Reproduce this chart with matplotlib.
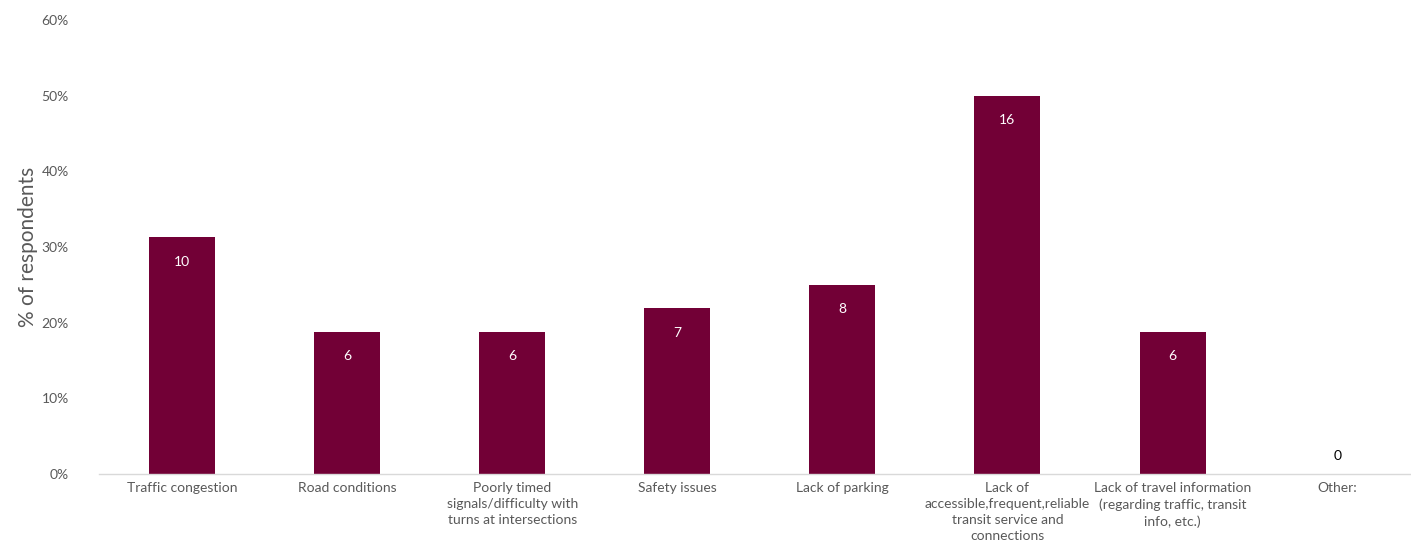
import matplotlib
matplotlib.use("Agg")
import matplotlib.pyplot as plt
from matplotlib.ticker import PercentFormatter

plt.rcParams["font.family"] = ["Lato", "DejaVu Sans"]

categories = [
    "Traffic congestion",
    "Road conditions",
    "Poorly timed\nsignals/difficulty with\nturns at intersections",
    "Safety issues",
    "Lack of parking",
    "Lack of\naccessible,frequent,reliable\ntransit service and\nconnections",
    "Lack of travel information\n(regarding traffic, transit\ninfo, etc.)",
    "Other:",
]
counts = [10, 6, 6, 7, 8, 16, 6, 0]
pct = [31.25, 18.75, 18.75, 21.875, 25.0, 50.0, 18.75, 0.0]

BAR = "#720036"
GREY = "#595959"

fig = plt.figure(figsize=(14.11, 5.5), dpi=100)
ax = fig.add_axes([0.0705, 0.138, 0.936, 0.826])

x = range(len(categories))
ax.bar(x, pct, width=0.4, color=BAR)

for xi, p, c in zip(x, pct, counts):
    if p > 3:
        ax.text(xi, p - 3.2, str(c), ha="center", va="center", color="white", fontsize=10)
    else:
        ax.text(xi, p + 2.4, str(c), ha="center", va="center", color="black", fontsize=10)

ax.set_ylim(0, 60)
ax.set_xlim(-0.5, len(categories) - 0.5)
ax.set_yticks(range(0, 61, 10))
ax.yaxis.set_major_formatter(PercentFormatter(decimals=0))
ax.set_xticks(list(x))
ax.set_xticklabels(categories, fontsize=10, color=GREY, va="top", linespacing=1.4)
ax.tick_params(axis="y", labelsize=10, labelcolor=GREY, length=0, pad=22)
ax.tick_params(axis="x", length=0, pad=6)

for s in ["top", "right", "left"]:
    ax.spines[s].set_visible(False)
ax.spines["bottom"].set_color("#d9d9d9")
ax.spines["bottom"].set_linewidth(1)

ax.set_ylabel("% of respondents", fontsize=15, color=GREY, labelpad=3)

fig.savefig("out.png", dpi=100)
